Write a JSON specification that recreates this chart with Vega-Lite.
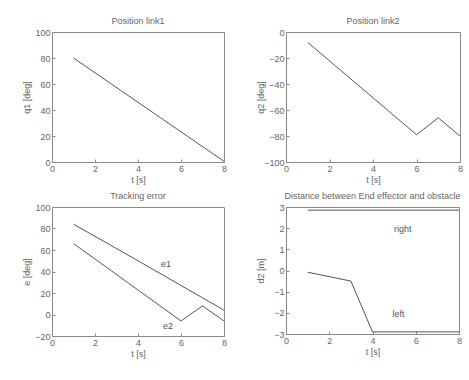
{
  "$schema": "https://vega.github.io/schema/vega-lite/v6.json",
  "padding": {"left": 21, "top": 16, "right": 5, "bottom": 5},
  "background": "white",
  "spacing": 6,
  "config": {
    "font": "Liberation Sans",
    "view": {"stroke": "#8a8a8a", "strokeWidth": 1},
    "axis": {"grid": false, "domain": false, "tickColor": "#8a8a8a", "tickSize": -3, "labelPadding": 5, "labelColor": "#666", "titleColor": "#666", "labelFontSize": 9, "titleFontSize": 9, "titleFontWeight": "normal", "labelFont": "Liberation Sans", "titleFont": "Liberation Sans", "labelOverlap": false, "labelFlush": false},
    "axisY": {"minExtent": 18, "maxExtent": 18, "titlePadding": 3},
    "axisX": {"titlePadding": 2},
    "title": {"fontSize": 9, "fontWeight": "normal", "color": "#666", "offset": 2, "font": "Liberation Sans"}
  },
  "datasets": {
    "q1": [{"t": 1, "v": 80}, {"t": 8, "v": 0.5}],
    "q2": [{"t": 1, "v": -8}, {"t": 6, "v": -79}, {"t": 7, "v": -66}, {"t": 8, "v": -80}],
    "err": [
      {"s": "e1", "t": 1, "v": 84}, {"s": "e1", "t": 4, "v": 50}, {"s": "e1", "t": 8, "v": 4},
      {"s": "e2", "t": 1, "v": 66}, {"s": "e2", "t": 6, "v": -6}, {"s": "e2", "t": 7, "v": 8}, {"s": "e2", "t": 8, "v": -6}
    ],
    "errlab": [{"t": 5.3, "v": 47, "txt": "e1"}, {"t": 5.4, "v": -11, "txt": "e2"}],
    "dist": [
      {"s": "right", "t": 1, "v": 2.85}, {"s": "right", "t": 8, "v": 2.85},
      {"s": "left", "t": 1, "v": -0.08}, {"s": "left", "t": 3, "v": -0.5}, {"s": "left", "t": 4, "v": -2.9}, {"s": "left", "t": 8, "v": -2.9}
    ],
    "distlab": [{"t": 5.4, "v": 1.96, "txt": "right"}, {"t": 5.2, "v": -2.05, "txt": "left"}]
  },
  "vconcat": [
    {
      "spacing": 27,
      "hconcat": [
        {
          "width": 172, "height": 130,
          "title": "Position link1",
          "data": {"name": "q1"},
          "mark": {"type": "line", "color": "#555", "strokeWidth": 1},
          "encoding": {
            "x": {"field": "t", "type": "quantitative", "scale": {"domain": [0, 8]}, "axis": {"values": [0, 2, 4, 6, 8], "title": "t [s]", "labelOverlap": false}},
            "y": {"field": "v", "type": "quantitative", "scale": {"domain": [0, 100]}, "axis": {"values": [0, 20, 40, 60, 80, 100], "title": "q1 [deg]", "labelOverlap": false}}
          }
        },
        {
          "width": 174, "height": 130,
          "title": "Position link2",
          "data": {"name": "q2"},
          "mark": {"type": "line", "color": "#555", "strokeWidth": 1},
          "encoding": {
            "x": {"field": "t", "type": "quantitative", "scale": {"domain": [0, 8]}, "axis": {"values": [0, 2, 4, 6, 8], "title": "t [s]", "labelOverlap": false}},
            "y": {"field": "v", "type": "quantitative", "scale": {"domain": [-100, 0]}, "axis": {"values": [-100, -80, -60, -40, -20, 0], "title": "q2 [deg]", "labelOverlap": false}}
          }
        }
      ]
    },
    {
      "spacing": 27,
      "hconcat": [
        {
          "width": 172, "height": 129,
          "title": "Tracking error",
          "encoding": {
            "x": {"field": "t", "type": "quantitative", "scale": {"domain": [0, 8]}, "axis": {"values": [0, 2, 4, 6, 8], "title": "t [s]", "labelOverlap": false}},
            "y": {"field": "v", "type": "quantitative", "scale": {"domain": [-20, 100]}, "axis": {"values": [-20, 0, 20, 40, 60, 80, 100], "title": "e [deg]", "labelOverlap": false}}
          },
          "layer": [
            {
              "data": {"name": "err"},
              "mark": {"type": "line", "color": "#555", "strokeWidth": 1},
              "encoding": {"detail": {"field": "s"}}
            },
            {
              "data": {"name": "errlab"},
              "mark": {"type": "text", "color": "#555", "fontSize": 9},
              "encoding": {"text": {"field": "txt"}}
            }
          ]
        },
        {
          "width": 173, "height": 127,
          "title": "Distance between End effector and obstacle",
          "encoding": {
            "x": {"field": "t", "type": "quantitative", "scale": {"domain": [0, 8]}, "axis": {"values": [0, 2, 4, 6, 8], "title": "t [s]", "labelOverlap": false}},
            "y": {"field": "v", "type": "quantitative", "scale": {"domain": [-3, 3]}, "axis": {"values": [-3, -2, -1, 0, 1, 2, 3], "title": "d2 [m]", "labelOverlap": false}}
          },
          "layer": [
            {
              "data": {"name": "dist"},
              "mark": {"type": "line", "color": "#555", "strokeWidth": 1},
              "encoding": {"detail": {"field": "s"}}
            },
            {
              "data": {"name": "distlab"},
              "mark": {"type": "text", "color": "#555", "fontSize": 9},
              "encoding": {"text": {"field": "txt"}}
            }
          ]
        }
      ]
    }
  ]
}
